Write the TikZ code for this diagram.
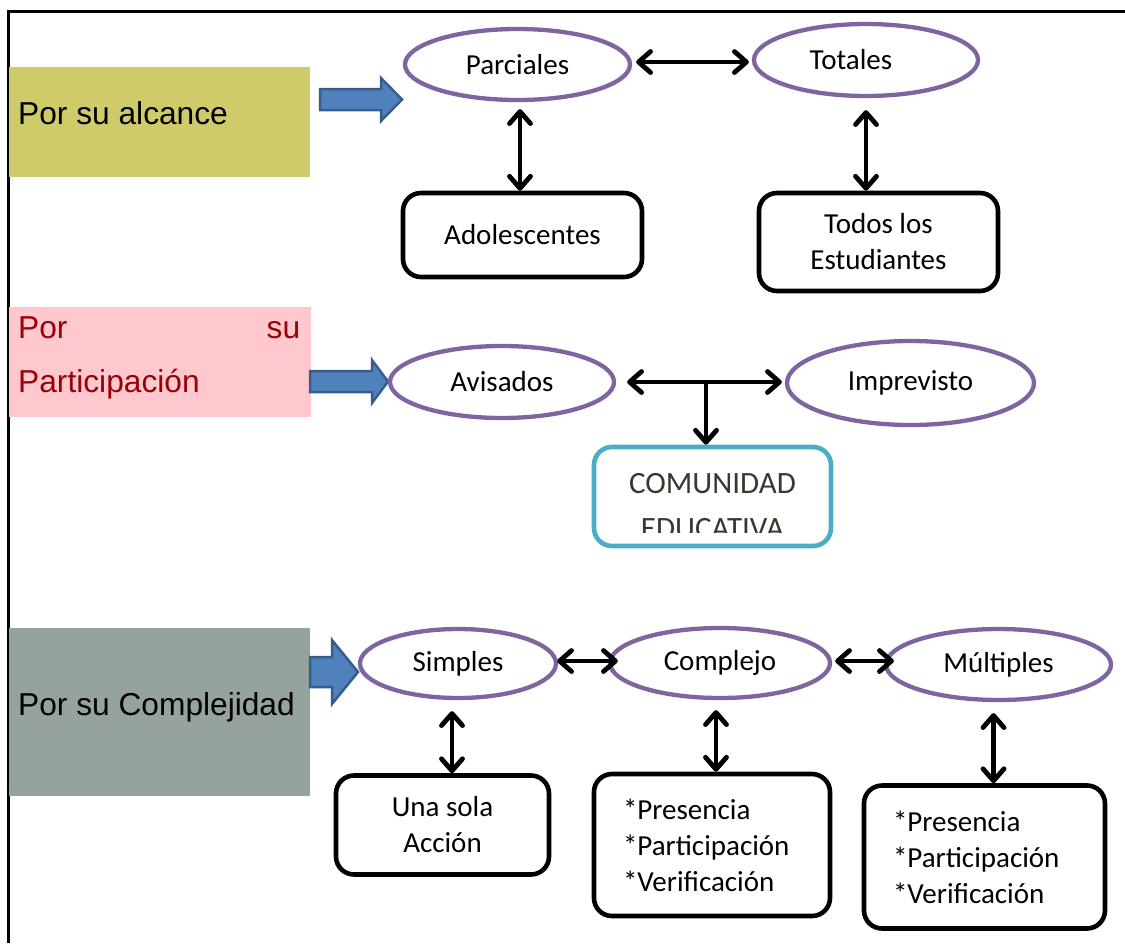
\documentclass[tikz,border=0pt]{standalone}
\usepackage{fontspec}
\setmainfont{Carlito}
\newfontfamily\arialfont{Liberation Sans}
\usetikzlibrary{arrows.meta,shapes.geometric,calc}

\definecolor{alcancefill}{RGB}{207,203,106}
\definecolor{partfill}{RGB}{255,199,206}
\definecolor{parttext}{RGB}{156,0,6}
\definecolor{complefill}{RGB}{149,163,156}
\definecolor{ovalpurple}{RGB}{128,100,162}
\definecolor{comcyan}{RGB}{75,172,198}
\definecolor{comtext}{RGB}{58,56,46}
\definecolor{bluefill}{RGB}{79,129,189}
\definecolor{blueline}{RGB}{56,93,138}

% block arrow: start x, centre y, head start x, tip x, shaft half height, head half height
\newcommand{\blockarrow}[6]{%
  \filldraw[fill=bluefill, draw=blueline, line width=2.5pt, line join=miter]
    (#1,#2-#5) -- (#3,#2-#5) -- (#3,#2-#6) -- (#4,#2) -- (#3,#2+#6)
    -- (#3,#2+#5) -- (#1,#2+#5) -- cycle;}

\begin{document}
\begin{tikzpicture}[x=1pt, y=-1pt,
  nodefont/.style={font=\fontsize{29}{36}\selectfont},
  labelfont/.style={font=\arialfont\fontsize{31.7}{54}\selectfont},
  oval/.style={ellipse, draw=ovalpurple, line width=4.3pt, inner sep=0pt, nodefont},
  itembox/.style={rectangle, rounded corners=18pt, draw=black, line width=4.6pt,
    inner sep=0pt, nodefont, align=center},
  catbox/.style={rectangle, inner sep=0pt, draw=none},
  tipv/.tip={Straight Barb[length=12pt,width=21pt,round]},
  dbl/.style={line width=4.8pt, tipv-tipv},
  down/.style={line width=4.8pt, -tipv},
]
\useasboundingbox (0,0) rectangle (1125,943);
\fill[white] (0,0) rectangle (1125,943);

% frame
\draw[line width=3pt] (1125,11) -- (8,11) -- (8,943);

% category labels
\node[catbox, fill=alcancefill, minimum width=301pt, minimum height=110pt] (alc) at (159.5,122) {};
\node[labelfont, anchor=base west, inner sep=0pt] (alctext) at (18,124) {Por su alcance};

\node[catbox, fill=partfill, minimum width=302pt, minimum height=110pt] (par) at (160,362) {};
\node[labelfont, text=parttext, anchor=north west, inner sep=0pt, text width=282pt, align=left]
  (partext) at (18,316) {Por\hfill su\\Participación};

\node[catbox, fill=complefill, minimum width=301pt, minimum height=168pt] (cpl) at (159.5,712) {};
\node[labelfont, anchor=base west, inner sep=0pt] (cpltext) at (18,715) {Por su Complejidad};

% block arrows
\blockarrow{320}{99.5}{381}{402}{10.5}{21.5}
\blockarrow{310}{381.5}{372}{388}{10.5}{21.5}
\blockarrow{310}{672}{332}{358}{15}{32}

% row 1: alcance
\node[oval, minimum width=225pt, minimum height=71pt] (parc) at (517.5,64.5) {Parciales};
\node[oval, minimum width=224pt, minimum height=72pt] (tot) at (866,60) {Totales\hspace*{30pt}};
\node[itembox, minimum width=239pt, minimum height=84pt] (ado) at (522.5,235) {Adolescentes};
\node[itembox, minimum width=239pt, minimum height=98pt] (todos) at (878.5,242) {Todos los\\Estudiantes};

\draw[dbl] ([xshift=4pt,yshift=2.5pt]parc.east) coordinate (pt1) -- ([xshift=-3pt]pt1 -| tot.west);
\draw[dbl] ($(parc.south)+(2.5,7)$) coordinate (pa) -- (pa |- ado.north);
\draw[dbl] ($(tot.south)+(0,12)$) coordinate (ta) -- (ta |- todos.north);

% row 2: participacion
\node[oval, minimum width=224pt, minimum height=72pt] (avi) at (502,382) {Avisados};
\node[oval, minimum width=247pt, minimum height=84pt] (imp) at (910.5,383) {Imprevisto};
\node[itembox, draw=comcyan, minimum width=237pt, minimum height=99pt] (com) at (712.5,496.5) {};
\begin{scope}
  \clip (594,447) rectangle (831,532);
  \node[font=\fontsize{31}{39}\selectfont, text=comtext, anchor=base, inner sep=0pt]
    (comtext) at (712.5,493) {COMUNIDAD};
  \node[font=\fontsize{31}{39}\selectfont, text=comtext, anchor=base, inner sep=0pt]
    (edutext) at (712.5,538) {EDUCATIVA};
\end{scope}

\draw[dbl] ([xshift=11pt]avi.east) coordinate (pt2) -- ([xshift=-3pt]pt2 -| imp.west);
\coordinate (split) at (706,382);
\draw[down] (split) -- (split |- com.north);

% row 3: complejidad
\node[oval, minimum width=196pt, minimum height=69pt] (sim) at (458,663.5) {Simples};
\node[oval, minimum width=220pt, minimum height=70pt] (cpx) at (720,663) {Complejo};
\node[oval, minimum width=225pt, minimum height=71pt] (mul) at (998.5,664.5) {Múltiples};

\node[itembox, minimum width=213pt, minimum height=99pt] (una) at (442.5,825) {Una sola\\Acción};
\node[itembox, minimum width=236pt, minimum height=142pt, align=left, text width=178pt]
  (cbox) at (712,845) {*Presencia\\{}*Participación\\{}*Verificación};
\node[itembox, minimum width=241pt, minimum height=143pt, align=left, text width=183pt]
  (mbox) at (984.5,857) {*Presencia\\{}*Participación\\{}*Verificación};

\draw[dbl] ([xshift=-1pt,yshift=2.5pt]sim.east) coordinate (pt3) -- ([xshift=10pt]pt3 -| cpx.west);
\draw[dbl] ([xshift=3pt,yshift=2pt]cpx.east) coordinate (pt4) -- ([xshift=10pt]pt4 -| mul.west);
\draw[dbl] ($(sim.south)+(-6,11)$) coordinate (sa) -- (sa |- una.north);
\draw[dbl] ($(cpx.south)+(-4,10)$) coordinate (ca) -- (ca |- cbox.north);
\draw[dbl] ($(mul.south)+(-5,11)$) coordinate (ma) -- (ma |- mbox.north);
\end{tikzpicture}
\end{document}
